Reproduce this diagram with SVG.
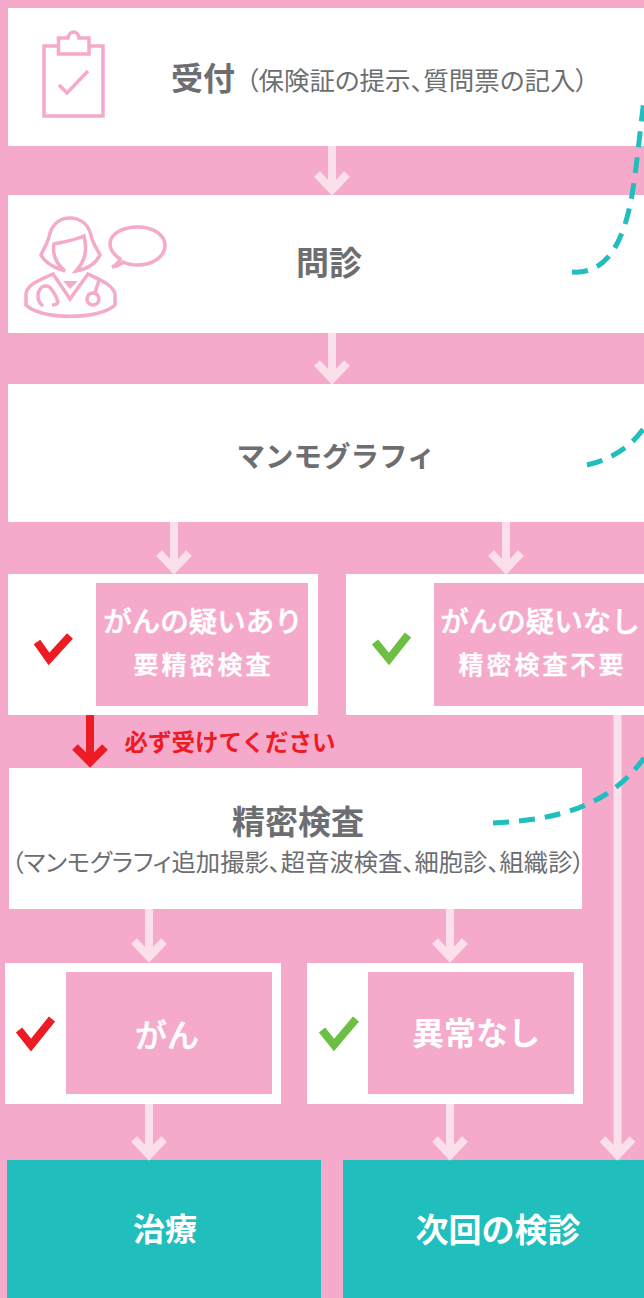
<svg xmlns="http://www.w3.org/2000/svg" width="644" height="1298" viewBox="0 0 644 1298">
<style>
text{font-family:"Noto Sans CJK JP","Noto Sans",sans-serif;text-anchor:middle}
.g{fill:#6d6e71}
.b{font-weight:700}
.w{fill:#fff;font-weight:700}
.m{fill:#fff;font-weight:500;stroke:#fff;stroke-width:.5}
.box{fill:#fff}
.in{fill:#f5a9cb}
.ar{fill:none;stroke:#fbe0ec;stroke-width:8}
.ic{fill:none;stroke:#f5a9cb;stroke-width:3.500}
.ck{fill:none;stroke-width:8}
.ds{fill:none;stroke:#20bebc;stroke-width:5;stroke-dasharray:16 10}
.n{font-feature-settings:"palt"}
</style>
<rect width="644" height="1298" fill="#f5a9cb"/>
<g id="uketsuke">
<rect class="box" x="8" y="8" width="636" height="138"/>
<g class="ic">
<path d="M58 46H44V116H103V46H89"/>
<path d="M58.500 54V38H68C69 30 78 30 79 38H89V54Z"/>
<path d="M59 85L67 93L88 71"/>
</g>
<text class="g b" x="203" y="90" font-size="32">受付</text>
<text class="g n" x="417" y="90" font-size="25.500">（保険証の提示、質問票の記入）</text>
</g>
<g id="monshin">
<rect class="box" x="8" y="195" width="636" height="138"/>
<g class="ic">
<path d="M65 271C55 268 45 263 41 255C44 248 48 243 50 233C53 224 60 218 70 218C80 218 88 224 91 235C92 243 97 248 100 255C96 263 88 269 76 271C84 262 88 253 84 236C75 240 64 242 54 244C52 253 56 264 65 271Z"/>
<path d="M53 274C40 280 27 284 26 294V305C40 320 100 320 115 305V294C113 285 100 280 88 274L70 299Z"/>
<path d="M43 306C37 302 36 292 42 287C46 285 50 286 52 290C55 294 57 298 58 302C57 305 54 305 52 305"/>
<circle cx="93" cy="299" r="6"/>
<path d="M95 293L99 280"/>
<path d="M120 259C113 254 110 249 110 244C110 234 122 227 138 227C153 227 165 235 165 245C165 257 152 265 138 265C132 265 127 264 123 262C121 265 117 266 112 267C116 265 119 262 120 259Z"/>
</g>
<path d="M63 281H78L70 289Z" fill="#f5a9cb"/>
<text class="g b" x="329" y="275" font-size="33">問診</text>
</g>
<g id="mammo">
<rect class="box" x="8" y="384" width="636" height="138"/>
<text class="g b" x="336" y="467" font-size="28.500">マンモグラフィ</text>
</g>
<g id="utagai-ari">
<rect class="box" x="8" y="574" width="310" height="141"/>
<rect class="in" x="96" y="583" width="212" height="123"/>
<path class="ck" stroke="#ed1c24" d="M37 642L49 659L70 636"/>
<text class="m" x="203" y="632" font-size="28.500">がんの疑いあり</text>
<text class="m" x="203.500" y="674" font-size="25" letter-spacing="3">要精密検査</text>
</g>
<g id="utagai-nashi">
<rect class="box" x="346" y="574" width="298" height="141"/>
<rect class="in" x="434" y="583" width="210" height="123"/>
<path class="ck" stroke="#6cbe45" d="M375 642L389 659L408 635"/>
<text class="m" x="540" y="632" font-size="28.500">がんの疑いなし</text>
<text class="m" x="542.500" y="674" font-size="25" letter-spacing="3">精密検査不要</text>
</g>
<g id="seimitsu">
<rect class="box" x="9" y="768" width="573" height="141"/>
<text class="g b" x="298" y="834" font-size="33">精密検査</text>
<text class="g n" x="298" y="871" font-size="24.300">（マンモグラフィ追加撮影、超音波検査、細胞診、組織診）</text>
</g>
<g id="gan">
<rect class="box" x="5" y="963" width="276" height="141"/>
<rect class="in" x="66" y="972" width="206" height="122"/>
<path class="ck" stroke="#ed1c24" d="M19 1030L31 1045L52 1019"/>
<text class="m" x="167" y="1047" font-size="32">がん</text>
</g>
<g id="ijou-nashi">
<rect class="box" x="307" y="963" width="276" height="141"/>
<rect class="in" x="368" y="972" width="206" height="122"/>
<path class="ck" stroke="#6cbe45" d="M322 1030L334 1045L356 1019"/>
<text class="w" x="476" y="1045" font-size="32">異常なし</text>
</g>
<g id="chiryo">
<rect x="7" y="1160" width="314" height="138" fill="#20bebc"/>
<text class="w" x="165" y="1241" font-size="32">治療</text>
</g>
<g id="jikai">
<rect x="343" y="1160" width="301" height="138" fill="#20bebc"/>
<text class="w" x="498" y="1242" font-size="33">次回の検診</text>
</g>
<g id="note">
<text x="230" y="751" font-size="23.500" font-weight="700" fill="#ed1c24">必ず受けてください</text>
</g>
<g id="connectors">
<path class="ar" d="M332 146V190M317 174L332 190L347 174"/>
<path class="ar" d="M332 333V379M317 363L332 379L347 363"/>
<path class="ar" d="M174 522V569M159 553L174 569L189 553"/>
<path class="ar" d="M506 522V569M491 553L506 569L521 553"/>
<path class="ar" d="M149 909V957M134 941L149 957L164 941"/>
<path class="ar" d="M450 909V957M435 941L450 957L465 941"/>
<path class="ar" d="M149 1104V1155M134 1139L149 1155L164 1139"/>
<path class="ar" d="M450 1104V1155M435 1139L450 1155L465 1139"/>
<path class="ar" d="M617.500 715V1155M602.500 1139L617.500 1155L632.500 1139"/>
<path fill="none" stroke="#ed1c24" stroke-width="8" d="M90 715V762M75 747L90 762L105 747"/>
<path class="ds" d="M572 272C610 275 625 235 632 195C637 165 640 130 644 100"/>
<path class="ds" d="M587 465C610 460 630 448 644 428"/>
<path class="ds" d="M493 823C560 820 610 805 644 758"/>
</g>
</svg>
